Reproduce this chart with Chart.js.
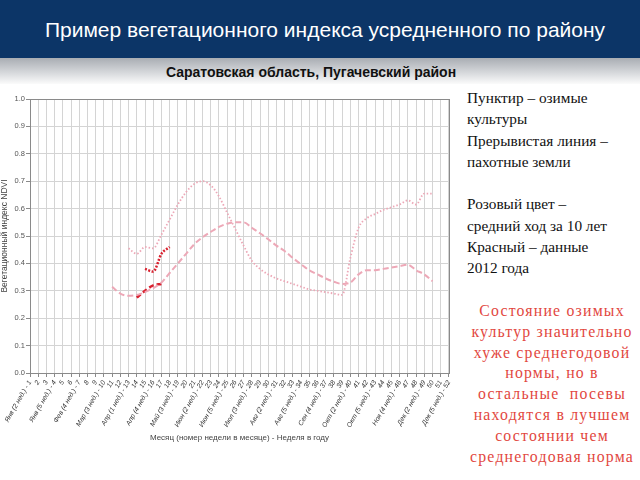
<!DOCTYPE html>
<html><head><meta charset="utf-8">
<script src="https://cdn.jsdelivr.net/npm/chart.js@4/dist/chart.umd.min.js"></script>
<style>
html,body{margin:0;padding:0;width:640px;height:480px;overflow:hidden;background:#fff;font-family:"Liberation Sans",Arial,sans-serif;}
#hdr{position:absolute;left:0;top:0;width:640px;height:58px;background:#0c3567;}
#title{position:absolute;left:0;top:17px;width:650px;text-align:center;color:#fff;font-size:21px;line-height:26px;}
#band{position:absolute;left:0;top:58px;width:640px;height:26px;background:linear-gradient(#a9adb3,#d9dbde 60%,#fbfbfb);}
#sub{position:absolute;left:0;top:63px;width:622px;text-align:center;color:#111;font-size:14px;font-weight:bold;line-height:18px;}
#chartbox{position:absolute;left:0;top:85px;width:458px;height:362px;}
#note1{position:absolute;left:467px;top:87px;width:175px;font-family:"Liberation Serif","Times New Roman",serif;font-size:15.3px;line-height:21.3px;color:#111;}
#note2{position:absolute;left:460px;top:301px;width:184px;text-align:center;font-family:"Liberation Serif","Times New Roman",serif;font-size:15.8px;line-height:20.8px;letter-spacing:1.2px;color:#e2473e;}
</style></head>
<body>
<div id="hdr"></div>
<div id="title">Пример вегетационного индекса усредненного по району</div>
<div id="band"></div>
<div id="sub">Саратовская область, Пугачевский район</div>
<div id="chartbox"><canvas id="c" width="458" height="362"></canvas></div>
<div id="note1">Пунктир – озимые<br>культуры<br>Прерывистая линия –<br>пахотные земли<br><br>Розовый цвет –<br>средний ход за 10 лет<br>Красный – данные<br>2012 года</div>
<div id="note2">Состояние озимых<br>культур значительно<br>хуже среднегодовой<br>нормы, но в<br>остальные&nbsp; посевы<br>находятся в лучшем<br>состоянии чем<br>среднегодовая норма</div>
<script>
// Week labels (52 weeks of the year)
const weekLabels = [
 "Янв (2 нед.) - 1","2","3","Янв (5 нед.) - 4","5","6","Фев (4 нед.) - 7","8","9",
 "Мар (3 нед.) - 10","11","12","Апр (1 нед.) - 13","14","15","Апр (4 нед.) - 16","17","18",
 "Май (3 нед.) - 19","20","21","Июн (2 нед.) - 22","23","24","Июн (5 нед.) - 25","26","27",
 "Июл (3 нед.) - 28","29","30","Авг (2 нед.) - 31","32","33","Авг (5 нед.) - 34","35","36",
 "Сен (4 нед.) - 37","38","39","Окт (2 нед.) - 40","41","42","Окт (5 нед.) - 43","44","45",
 "Ноя (4 нед.) - 46","47","48","Дек (2 нед.) - 49","50","51","Дек (5 нед.) - 52"
];
const yTicks = [0,0.1,0.2,0.3,0.4,0.5,0.6,0.7,0.8,0.9,1.0];
// Winter crops, 10-year average (pink dotted), weeks 1..52
const winterAvg = [null,null,null,null,null,null,null,null,null,null,null,null,
 0.455,0.435,0.46,0.455,0.505,0.56,0.615,0.66,0.69,0.70,0.685,0.645,0.585,0.525,0.465,
 0.41,0.38,0.36,0.345,0.335,0.325,0.315,0.305,0.30,0.295,0.29,0.285,0.42,0.53,0.565,
 0.58,0.595,0.605,0.615,0.63,0.615,0.655,0.655,null,null];
// Arable land, 10-year average (pink dashed)
const arableAvg = [null,null,null,null,null,null,null,null,null,null,
 0.315,0.29,0.282,0.285,0.295,0.31,0.33,0.365,0.40,0.435,0.47,0.495,0.515,0.533,0.545,
 0.55,0.55,0.53,0.51,0.488,0.465,0.445,0.42,0.397,0.375,0.36,0.345,0.333,0.325,0.33,
 0.36,0.375,0.375,0.38,0.385,0.39,0.395,0.375,0.36,0.335,null,null];
// Winter crops, 2012 (red dotted)
const winter2012 = [null,null,null,null,null,null,null,null,null,null,null,null,null,null,
 0.38,0.37,0.435,0.46,null,null,null,null,null,null,null,null,null,null,null,null,null,null,
 null,null,null,null,null,null,null,null,null,null,null,null,null,null,null,null,null,null,null,null];
// Arable land, 2012 (red dashed)
const arable2012 = [null,null,null,null,null,null,null,null,null,null,null,null,null,
 0.275,0.30,0.32,0.325,null,null,null,null,null,null,null,null,null,null,null,null,null,null,
 null,null,null,null,null,null,null,null,null,null,null,null,null,null,null,null,null,null,null,null,null];

const PINK = '#eda8b7', RED = '#d9212f';
const frame = {id:'frame', afterDraw(ch){const a=ch.chartArea,x=ch.ctx;x.save();x.strokeStyle='#8a8a8a';x.lineWidth=1;x.strokeRect(Math.round(a.left)+0.5,Math.round(a.top)+0.5,Math.round(a.right-a.left),Math.round(a.bottom-a.top));x.restore();}};
const ds = (label,data,color,dash,w)=>({label,data,borderColor:color,backgroundColor:color,borderDash:dash,borderWidth:w,pointRadius:0,fill:false,spanGaps:false,cubicInterpolationMode:'monotone'});
new Chart(document.getElementById('c'),{
 type:'line',
 data:{labels:weekLabels,datasets:[
  ds('Озимые, среднее',winterAvg,PINK,[1.5,2],1.8),
  ds('Пахотные, среднее',arableAvg,PINK,[6,3],2),
  ds('Озимые 2012',winter2012,RED,[2,1.5],2.5),
  ds('Пахотные 2012',arable2012,RED,[5,3],2.5)
 ]},
 options:{
  responsive:false,animation:false,
  layout:{padding:{top:14,right:8,bottom:4,left:0}},
  plugins:{legend:{display:false},tooltip:{enabled:false}},
  scales:{
   x:{offset:false,
    grid:{color:'#d4d4d4',tickLength:4,drawTicks:true,tickColor:'#8a8a8a'},
    border:{color:'#8a8a8a'},
    ticks:{autoSkip:false,maxRotation:60,minRotation:60,padding:2,color:'#333',font:{size:6.8,family:'Liberation Sans',style:'italic'}},
    title:{display:true,text:'Месяц (номер недели в месяце) - Неделя в году',color:'#444',font:{size:8,family:'Liberation Sans'},padding:{top:2,bottom:0}},
    afterFit(s){s.height=70;}
   },
   y:{min:0,max:1,
    afterBuildTicks(s){s.ticks=yTicks.map(v=>({value:v}));},
    grid:{color:'#d4d4d4',tickLength:4,tickColor:'#8a8a8a'},
    border:{color:'#8a8a8a'},
    ticks:{color:'#555',padding:1,font:{size:7.5,family:'Liberation Sans'},callback:v=>v.toFixed(1)},
    title:{display:true,text:'Вегетационный индекс NDVI',color:'#444',font:{size:8.5,family:'Liberation Sans'},padding:{top:0,bottom:1}},
    afterFit(s){s.width=30;}
   }
  }
 },
 plugins:[frame]
});
</script>
</body></html>
